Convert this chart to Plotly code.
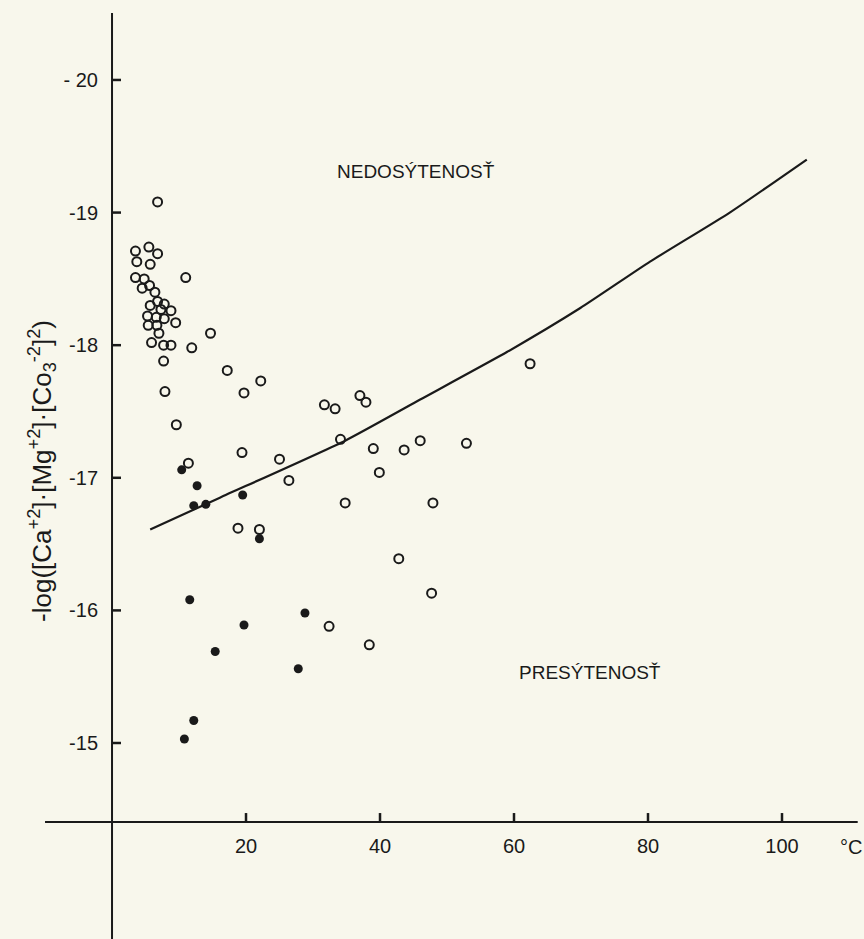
import plotly.graph_objects as go

# Undersaturated / supersaturated samples: temperature (°C) vs -log(ion activity product)
open_temp = [6.8, 3.5, 5.5, 6.8, 3.7, 5.7, 11.0, 3.5, 4.8, 5.6, 4.5, 6.4, 6.8, 7.8, 5.7,
             7.3, 8.8, 5.3, 6.6, 7.8, 9.5, 5.4, 6.7, 7.0, 14.7, 5.9, 7.7, 8.8, 11.9, 7.7,
             17.2, 22.2, 19.7, 7.9, 9.6, 19.4, 25.0, 11.4, 31.7, 33.3, 37.0, 37.9, 34.1,
             46.0, 52.9, 39.0, 43.6, 26.4, 39.9, 34.8, 47.9, 18.8, 22.0, 42.8, 47.7, 32.4,
             38.4, 62.4]
open_log = [-19.08, -18.71, -18.74, -18.69, -18.63, -18.61, -18.51, -18.51, -18.50, -18.45,
            -18.43, -18.40, -18.33, -18.31, -18.30, -18.27, -18.26, -18.22, -18.21, -18.20,
            -18.17, -18.15, -18.15, -18.09, -18.09, -18.02, -18.00, -18.00, -17.98, -17.88,
            -17.81, -17.73, -17.64, -17.65, -17.40, -17.19, -17.14, -17.11, -17.55, -17.52,
            -17.62, -17.57, -17.29, -17.28, -17.26, -17.22, -17.21, -16.98, -17.04, -16.81,
            -16.81, -16.62, -16.61, -16.39, -16.13, -15.88, -15.74, -17.86]

filled_temp = [10.4, 12.7, 19.5, 12.2, 14.0, 22.0, 11.6, 28.8, 19.7, 15.4, 27.8, 12.2, 10.8]
filled_log = [-17.06, -16.94, -16.87, -16.79, -16.80, -16.54, -16.08, -15.98, -15.89, -15.69,
              -15.56, -15.17, -15.03]

# Saturation boundary
curve_temp = [5.7, 16.1, 34.8, 46.0, 59.0, 69.9, 80.3, 92.2, 103.7]
curve_log = [-16.61, -16.85, -17.28, -17.59, -17.95, -18.28, -18.63, -19.00, -19.40]

x_ticks = [20, 40, 60, 80, 100]
x_ticktext = ["20", "40", "60", "80", "100"]
y_ticks = [-20, -19, -18, -17, -16, -15]
y_ticktext = ["- 20", "-19", "-18", "-17", "-16", "-15"]

WIDTH, HEIGHT = 864, 939
X_RANGE = [-16.72, 112.24]
Y_RANGE = [-13.522, -20.603]
X_AXIS_LEVEL = -14.404
INK = "#1a1a1a"
PAPER = "#f8f7ec"
FONT = "Liberation Sans"
TICK_PX = 9

# tick length expressed in data units of each axis
x_per_px = (X_RANGE[1] - X_RANGE[0]) / WIDTH
y_per_px = (Y_RANGE[0] - Y_RANGE[1]) / HEIGHT

fig = go.Figure()

# axis lines crossing at the origin of temperature
fig.add_trace(go.Scatter(
    x=[0, 0, None, -10.0, 111.3],
    y=[-20.505, Y_RANGE[0], None, X_AXIS_LEVEL, X_AXIS_LEVEL],
    mode="lines", line=dict(color=INK, width=2), hoverinfo="skip", showlegend=False))

# tick marks pointing into the plot, one short segment per tick
for v in y_ticks:
    fig.add_trace(go.Scatter(
        x=[0, TICK_PX * x_per_px], y=[v, v], mode="lines",
        line=dict(color=INK, width=2.5), hoverinfo="skip", showlegend=False))
for v in x_ticks:
    fig.add_trace(go.Scatter(
        x=[v, v], y=[X_AXIS_LEVEL, X_AXIS_LEVEL - TICK_PX * y_per_px], mode="lines",
        line=dict(color=INK, width=2.5), hoverinfo="skip", showlegend=False))

fig.add_trace(go.Scatter(
    x=curve_temp, y=curve_log, mode="lines",
    line=dict(color=INK, width=2.2, shape="spline", smoothing=0.5),
    hoverinfo="skip", showlegend=False))

fig.add_trace(go.Scatter(
    x=open_temp, y=open_log, mode="markers",
    marker=dict(symbol="circle-open", size=9, color=INK, line=dict(width=2, color=INK)),
    showlegend=False))

fig.add_trace(go.Scatter(
    x=filled_temp, y=filled_log, mode="markers",
    marker=dict(symbol="circle", size=9, color=INK),
    showlegend=False))

fig.add_annotation(x=45.4, y=-19.306, text="NEDOSÝTENOSŤ", showarrow=False,
                   font=dict(family=FONT, size=19, color=INK))
fig.add_annotation(x=71.3, y=-15.535, text="PRESÝTENOSŤ", showarrow=False,
                   font=dict(family=FONT, size=19, color=INK))
fig.add_annotation(x=108.4, y=-14.215, text="°C", showarrow=False, xanchor="left",
                   font=dict(family=FONT, size=20, color=INK))
fig.add_annotation(
    xref="paper", yref="paper", x=0.026, y=0.499, textangle=-90, showarrow=False,
    text="-log([Ca<sup>+2</sup>]·[Mg<sup>+2</sup>]·[Co<sub>3</sub><sup>-2</sup>]<sup>2</sup>)",
    font=dict(family=FONT, size=26, color=INK))

fig.update_layout(
    width=WIDTH, height=HEIGHT,
    margin=dict(l=0, r=0, t=0, b=0),
    paper_bgcolor=PAPER, plot_bgcolor=PAPER,
    showlegend=False,
    xaxis=dict(range=X_RANGE, anchor="free", position=(HEIGHT - 822) / HEIGHT, side="bottom",
               showgrid=False, zeroline=False, showline=False,
               tickmode="array", tickvals=x_ticks, ticktext=x_ticktext,
               ticks="", ticklabelstandoff=10,
               tickfont=dict(family=FONT, size=20, color=INK)),
    yaxis=dict(range=Y_RANGE, anchor="free", position=112 / WIDTH, side="left",
               showgrid=False, zeroline=False, showline=False,
               tickmode="array", tickvals=y_ticks, ticktext=y_ticktext,
               ticks="", ticklabelstandoff=14,
               tickfont=dict(family=FONT, size=20, color=INK)),
)

fig.write_html("out.html")
